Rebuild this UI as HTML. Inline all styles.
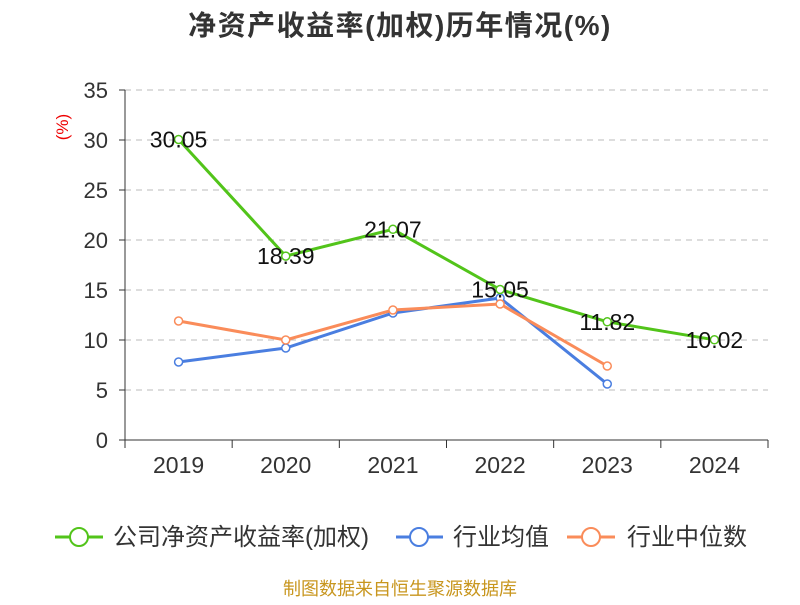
<!DOCTYPE html>
<html><head><meta charset="utf-8">
<style>
body{margin:0;background:#fff;}
svg text{font-family:"Liberation Sans","Noto Sans CJK SC",sans-serif;}
</style></head>
<body>
<svg id="chart" width="800" height="600" viewBox="0 0 800 600">
<text x="400" y="35" text-anchor="middle" font-size="28" letter-spacing="1.5" font-weight="bold" fill="#333">净资产收益率(加权)历年情况(%)</text>
<text x="68" y="127" font-size="17" fill="#e00" transform="rotate(-90 68 127)" text-anchor="middle">(%)</text>
<g id="grid"></g><g id="axes"></g><g id="series"></g>
<g>
 <g>
  <line x1="55" y1="537" x2="103" y2="537" stroke="#52c41a" stroke-width="3"/>
  <circle cx="79" cy="537" r="9" fill="#fff" stroke="#52c41a" stroke-width="2"/>
  <text x="113" y="545" font-size="24" fill="#333">公司净资产收益率(加权)</text>
 </g>
 <g>
  <line x1="396" y1="537" x2="443" y2="537" stroke="#4a7ee0" stroke-width="3"/>
  <circle cx="419" cy="537" r="9" fill="#fff" stroke="#4a7ee0" stroke-width="2"/>
  <text x="453" y="545" font-size="24" fill="#333">行业均值</text>
 </g>
 <g>
  <line x1="567" y1="537" x2="615" y2="537" stroke="#fa8c5a" stroke-width="3"/>
  <circle cx="591" cy="537" r="9" fill="#fff" stroke="#fa8c5a" stroke-width="2"/>
  <text x="627" y="545" font-size="24" fill="#333">行业中位数</text>
 </g>
</g>
<text x="400" y="595" text-anchor="middle" font-size="18" fill="#c8961e">制图数据来自恒生聚源数据库</text>
</svg>
<script>
const categories=["2019","2020","2021","2022","2023","2024"];
const companyValues=[30.05,18.39,21.07,15.05,11.82,10.02];
const industryAvg=[7.8,9.2,12.7,14.2,5.6];
const industryMedian=[11.9,10.0,13.0,13.6,7.4];
const yTicks=[0,5,10,15,20,25,30,35];
const NS="http://www.w3.org/2000/svg";
const x0=125,x1=768,y0=440,y1=90;
const step=(x1-x0)/categories.length;
const xs=i=>x0+step*(i+0.5);
const ys=v=>y0-(v/35)*(y0-y1);
function mk(t,a,p){const e=document.createElementNS(NS,t);for(const k in a)e.setAttribute(k,a[k]);p.appendChild(e);return e;}
const grid=document.getElementById('grid'),axes=document.getElementById('axes'),ser=document.getElementById('series');
yTicks.forEach(v=>{
 if(v>0){const g=mk('line',{x1:x0,x2:x1,y1:ys(v),y2:ys(v),stroke:'#bbb','stroke-dasharray':'6,5'},grid);
 
 }
 mk('line',{x1:x0-6,x2:x0,y1:ys(v),y2:ys(v),stroke:'#333'},axes);
 const t=mk('text',{x:x0-17,y:ys(v)+8,'text-anchor':'end','font-size':22,fill:'#333'},axes);t.textContent=v;
 
 
});
mk('line',{x1:x0,x2:x0,y1:y1,y2:y0,stroke:'#333'},axes);
mk('line',{x1:x0,x2:x1,y1:y0,y2:y0,stroke:'#333'},axes);
for(let i=0;i<=categories.length;i++)mk('line',{x1:x0+step*i,x2:x0+step*i,y1:y0,y2:y0+8,stroke:'#333'},axes);
categories.forEach((c,i)=>{const t=mk('text',{x:xs(i),y:473,'text-anchor':'middle','font-size':23,fill:'#333'},axes);t.textContent=c;
 
 });
function line(vals,color,name,labels){
 const g=mk('g',{},ser);
 
 
 mk('polyline',{points:vals.map((v,i)=>xs(i)+','+ys(v)).join(' '),fill:'none',stroke:color,'stroke-width':3},g);
 vals.forEach((v,i)=>{const c=mk('circle',{cx:xs(i),cy:ys(v),r:4,fill:'#fff',stroke:color,'stroke-width':1.5},g);
  
  
  if(labels){const t=mk('text',{x:xs(i),y:ys(v)+8,'text-anchor':'middle','font-size':23,fill:'#111'},g);t.textContent=v.toFixed(2);
   
   }
 });
}
line(industryAvg,'#4a7ee0','industry-avg-line',false);
line(industryMedian,'#fa8c5a','industry-median-line',false);
line(companyValues,'#52c41a','company-roe-line',true);
</script>
</body></html>
